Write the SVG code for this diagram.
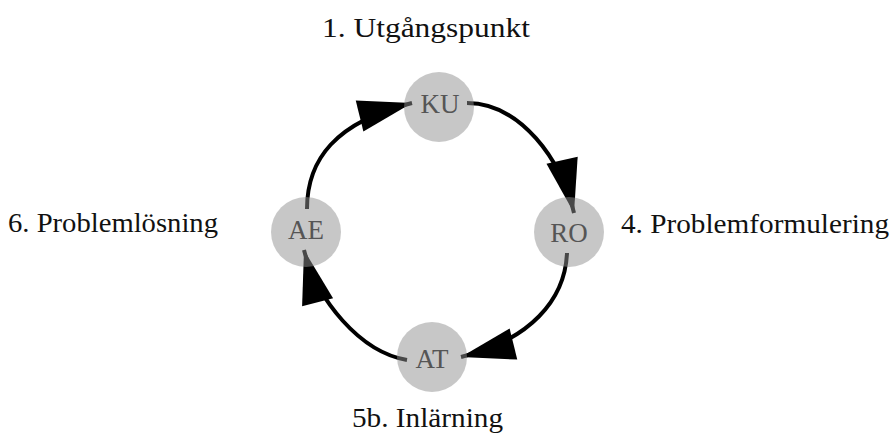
<svg xmlns="http://www.w3.org/2000/svg" width="896" height="441" viewBox="0 0 896 441">
<style>
.edge{fill:none;stroke:#000;stroke-width:4}
.node circle{fill:#909090;fill-opacity:0.5}
.node text{font-family:"Liberation Serif",serif;font-size:27px;fill:#555;text-anchor:middle}
.label{font-family:"Liberation Serif",serif;font-size:28px;fill:#111}
</style>
<defs>
<marker id="arrow" markerUnits="userSpaceOnUse" markerWidth="56" markerHeight="34" viewBox="0 -17 56 34" refX="54" refY="0" orient="auto" overflow="visible">
<path d="M0,-16 L54,0 L0,16 z" fill="#000"/>
</marker>
</defs>
<g id="connectors">
<path class="edge" marker-end="url(#arrow)" d="M467,103 C520,103 562,160 574,213"/>
<path class="edge" marker-end="url(#arrow)" d="M567,253 C565,300 530,340 461,357"/>
<path class="edge" marker-end="url(#arrow)" d="M407,360 C360,352 317,300 304,250"/>
<path class="edge" marker-end="url(#arrow)" d="M307,209 C307,160 335,122 412,103"/>
</g>
<g id="KU" class="node"><circle cx="439" cy="107" r="35"/><text x="440" y="113">KU</text></g>
<g id="RO" class="node"><circle cx="569" cy="232" r="35"/><text x="569" y="242">RO</text></g>
<g id="AT" class="node"><circle cx="432" cy="357" r="35"/><text x="432" y="368">AT</text></g>
<g id="AE" class="node"><circle cx="306" cy="232" r="35"/><text x="306" y="239">AE</text></g>
<g id="labels">
<text class="label" x="322" y="37" textLength="208" lengthAdjust="spacingAndGlyphs">1. Utgångspunkt</text>
<text class="label" x="8" y="232" textLength="210" lengthAdjust="spacingAndGlyphs">6. Problemlösning</text>
<text class="label" x="621" y="233" textLength="268" lengthAdjust="spacingAndGlyphs">4. Problemformulering</text>
<text class="label" x="352" y="427" textLength="151" lengthAdjust="spacingAndGlyphs">5b. Inlärning</text>
</g>
</svg>
